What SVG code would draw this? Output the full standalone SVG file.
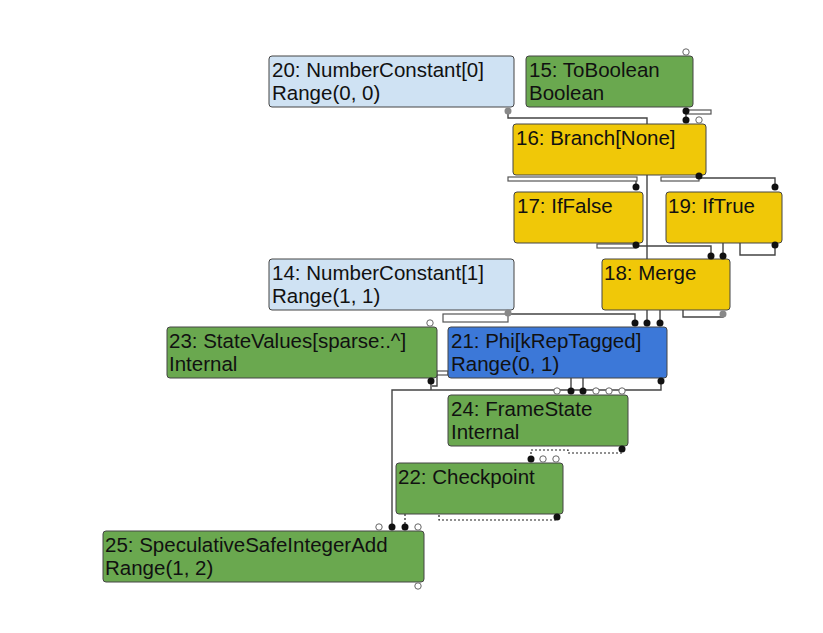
<svg xmlns="http://www.w3.org/2000/svg" width="823" height="633" viewBox="0 0 823 633">
<style>
.n rect{stroke:#444;stroke-width:1;}
.n text{font-family:"Liberation Sans",Arial,sans-serif;font-size:20.5px;fill:#111;}
.k rect{fill:#cfe2f3;}
.g rect{fill:#6aa84f;}
.y rect{fill:#f0c808;}
.b rect{fill:#3c78d8;}
.e path{fill:none;stroke:#444;stroke-width:1.4;}
.e path.d{stroke:#222;stroke-width:1.2;stroke-dasharray:2,2;}
.e rect{fill:#fff;stroke:#555;stroke-width:1.2;}
.p .f{fill:#111;}
.p .gr{fill:#888;}
.p .h{fill:#fff;stroke:#666;stroke-width:1;}
</style>
<rect width="823" height="633" fill="#fff"/>
<g id="connectors" class="e">
<path d="M508,111 V118 H647 V323"/>
<rect x="686" y="110" width="25" height="4"/>
<path d="M686,111 V120"/>
<rect x="508" y="177" width="129" height="4"/>
<rect x="661" y="177" width="38" height="4"/>
<path d="M636,181 V187"/>
<path d="M699,176 V178 H775 V187"/>
<rect x="597" y="244" width="39" height="4"/>
<path d="M636,246 H711 V256"/>
<path d="M775,245 V255 H740 V240 H723 V256"/>
<path d="M723,314 V317 H683 V305 H660 V323"/>
<rect x="443" y="314" width="65" height="8"/>
<path d="M508,313 V314 H635 V323"/>
<rect x="437" y="371" width="11" height="4"/>
<path d="M437,375 V386 H432"/>
<path d="M431,381 V390"/>
<path d="M661,381 V390 H392 V527"/>
<path d="M571,370 V391"/>
<path d="M583,370 V391"/>
<path class="d" d="M622,449 V453 H568 V450 H531 V459"/>
<path class="d" d="M557,517 V520 H439 V510"/>
<path class="d" d="M405,514 V527"/>
</g>
<g id="n20" class="n k"><rect x="269" y="56" width="245" height="51" rx="3"/><text x="272" y="77">20: NumberConstant[0]</text><text x="272" y="100">Range(0, 0)</text></g>
<g id="n15" class="n g"><rect x="526" y="56" width="167" height="51" rx="3"/><text x="529" y="77">15: ToBoolean</text><text x="529" y="100">Boolean</text></g>
<g id="n16" class="n y"><rect x="513" y="124" width="193" height="51" rx="3"/><text x="516" y="145">16: Branch[None]</text></g>
<g id="n17" class="n y"><rect x="514" y="192" width="129" height="51" rx="3"/><text x="517" y="213">17: IfFalse</text></g>
<g id="n19" class="n y"><rect x="666" y="192" width="116" height="51" rx="3"/><text x="668" y="213">19: IfTrue</text></g>
<g id="n18" class="n y"><rect x="602" y="259" width="128" height="51" rx="3"/><text x="604" y="280">18: Merge</text></g>
<g id="n14" class="n k"><rect x="269" y="259" width="245" height="51" rx="3"/><text x="272" y="280">14: NumberConstant[1]</text><text x="272" y="303">Range(1, 1)</text></g>
<g id="n23" class="n g"><rect x="167" y="327" width="270" height="51" rx="3"/><text x="169" y="348">23: StateValues[sparse:.^]</text><text x="169" y="371">Internal</text></g>
<g id="n21" class="n b"><rect x="448" y="327" width="219" height="51" rx="3"/><text x="451" y="348">21: Phi[kRepTagged]</text><text x="451" y="371">Range(0, 1)</text></g>
<g id="n24" class="n g"><rect x="448" y="395" width="180" height="51" rx="3"/><text x="451" y="416">24: FrameState</text><text x="451" y="439">Internal</text></g>
<g id="n22" class="n g"><rect x="396" y="463" width="167" height="51" rx="3"/><text x="398" y="484">22: Checkpoint</text></g>
<g id="n25" class="n g"><rect x="103" y="531" width="321" height="51" rx="3"/><text x="105" y="552">25: SpeculativeSafeIntegerAdd</text><text x="105" y="575">Range(1, 2)</text></g>
<g id="ports" class="p">
<circle class="f" cx="686" cy="111" r="3.5"/><circle class="f" cx="686" cy="120" r="3.5"/>
<circle class="f" cx="699" cy="176" r="3.5"/><circle class="f" cx="636" cy="187" r="3.5"/>
<circle class="f" cx="775" cy="187" r="3.5"/><circle class="f" cx="636" cy="245" r="3.5"/>
<circle class="f" cx="711" cy="256" r="3.5"/><circle class="f" cx="723" cy="256" r="3.5"/>
<circle class="f" cx="775" cy="245" r="3.5"/><circle class="f" cx="635" cy="323" r="3.5"/>
<circle class="f" cx="647" cy="323" r="3.5"/><circle class="f" cx="660" cy="323" r="3.5"/>
<circle class="f" cx="431" cy="381" r="3.5"/><circle class="f" cx="661" cy="381" r="3.5"/>
<circle class="f" cx="571" cy="391" r="3.5"/><circle class="f" cx="583" cy="391" r="3.5"/>
<circle class="f" cx="622" cy="449" r="3.5"/><circle class="f" cx="531" cy="459" r="3.5"/>
<circle class="f" cx="557" cy="517" r="3.5"/><circle class="f" cx="392" cy="527" r="3.5"/>
<circle class="f" cx="405" cy="527" r="3.5"/>
<circle class="gr" cx="508" cy="111" r="3.5"/><circle class="gr" cx="508" cy="313" r="3.5"/>
<circle class="gr" cx="723" cy="314" r="3.5"/>
<circle class="h" cx="686" cy="52" r="3.2"/><circle class="h" cx="699" cy="120" r="3.2"/>
<circle class="h" cx="430" cy="323" r="3.2"/><circle class="h" cx="557" cy="391" r="3.2"/>
<circle class="h" cx="596" cy="391" r="3.2"/><circle class="h" cx="609" cy="391" r="3.2"/>
<circle class="h" cx="622" cy="391" r="3.2"/><circle class="h" cx="543" cy="459" r="3.2"/>
<circle class="h" cx="556" cy="459" r="3.2"/><circle class="h" cx="379" cy="527" r="3.2"/>
<circle class="h" cx="418" cy="527" r="3.2"/><circle class="h" cx="418" cy="586" r="3.2"/>
</g>
</svg>
